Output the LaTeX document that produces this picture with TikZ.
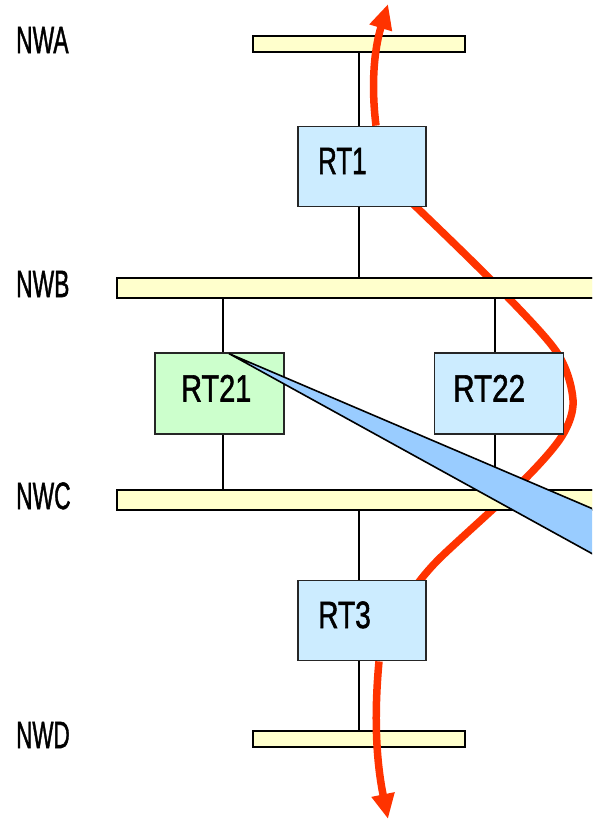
\documentclass[tikz,border=0pt]{standalone}
\usepackage{fontspec}
\usepackage{graphicx}
\setmainfont{Liberation Sans}
\newfontfamily\lblfont{Liberation Sans}[FakeBold=1.6]
\usetikzlibrary{arrows.meta}
\definecolor{barfill}{HTML}{FFFFCC}
\definecolor{rtblue}{HTML}{CCECFF}
\definecolor{rtgreen}{HTML}{CCFFCC}
\definecolor{wedgeblue}{HTML}{99CCFF}
\definecolor{routered}{HTML}{FF3300}
\newcommand{\lbl}[2]{\scalebox{#1}[1]{\lblfont\fontsize{38}{40}\selectfont #2}}
\tikzset{
  segbar/.style={draw=black, line width=2pt, fill=barfill, inner sep=0pt, minimum height=#1},
  segbar/.default=16pt,
  router/.style={draw=black!85, line width=1.8pt, fill=rtblue, inner sep=0pt,
                 minimum width=128pt, minimum height=80pt},
  link/.style={draw=black, line width=1.8pt},
  netlabel/.style={anchor=base west, inner sep=0pt},
  rtlabel/.style={anchor=base west, inner sep=0pt},
  path/.style={draw=routered, line width=7.5pt},
  pathhead/.style={-{Triangle[length=25pt,width=22pt]}}
}
\begin{document}
\begin{tikzpicture}[x=1pt,y=-1pt]
\clip (0,0) rectangle (592,819);
\fill[white] (0,0) rectangle (592,819);

% route through the middle segments, hidden behind segments and routers
\draw[path] plot[smooth, tension=0.5] coordinates
  {(410,201) (490,279) (556,351) (573,400) (562,436) (523,481) (440,558) (416,586)};

% network segments
\node[segbar, minimum width=212pt] (barA) at (359,43.5) {};
\node[segbar=20pt, minimum width=500pt] (barB) at (367,287.5) {};
\node[segbar=20pt, minimum width=500pt] (barC) at (367,499.5) {};
\node[segbar, minimum width=212pt] (barD) at (359,739) {};

% routers
\node[router] (RT1) at (362,166.5) {};
\node[router, minimum width=129pt, minimum height=81pt, fill=rtgreen] (RT21) at (219.5,393.5) {};
\node[router, minimum width=129pt, minimum height=81pt] (RT22) at (499,393.5) {};
\node[router] (RT3) at (362,620.5) {};

% links between routers and segments
\draw[link] (barA.south) -- (barA.south |- RT1.north);
\draw[link] (barA.south |- RT1.south) -- (barA.south |- barB.north);
\draw[link] ([xshift=3.5pt]RT21.north |- barB.south) -- ([xshift=3.5pt]RT21.north);
\draw[link] ([xshift=3.5pt]RT21.south) -- ([xshift=3.5pt]RT21.south |- barC.north);
\draw[link] ([xshift=-4pt]RT22.north |- barB.south) -- ([xshift=-4pt]RT22.north);
\draw[link] ([xshift=-4pt]RT22.south) -- ([xshift=-4pt]RT22.south |- barC.north);
\draw[link] (barD.north |- barC.south) -- (barD.north |- RT3.north);
\draw[link] (barD.north |- RT3.south) -- (barD.north);

% redraw segment bodies over the link ends
\node[segbar, minimum width=212pt] at (barA) {};
\node[segbar=20pt, minimum width=500pt] at (barB) {};
\node[segbar=20pt, minimum width=500pt] at (barC) {};
\node[segbar, minimum width=212pt] at (barD) {};
\node[router] at (RT1) {};
\node[router, minimum width=129pt, minimum height=81pt, fill=rtgreen] at (RT21) {};
\node[router, minimum width=129pt, minimum height=81pt] at (RT22) {};
\node[router] at (RT3) {};

% labels
\node[netlabel] (lA) at (16,53) {\lbl{0.6}{NWA}};
\node[netlabel] (lB) at (16,297) {\lbl{0.6}{NWB}};
\node[netlabel] (lC) at (16,509) {\lbl{0.6}{NWC}};
\node[netlabel] (lD) at (16,748) {\lbl{0.59}{NWD}};
\node[rtlabel] (t1) at (318,174) {\lbl{0.68}{RT1}};
\node[rtlabel] (t21) at (181,401.5) {\lbl{0.76}{RT21}};
\node[rtlabel] (t22) at (453,401.5) {\lbl{0.78}{RT22}};
\node[rtlabel] (t3) at (318,628) {\lbl{0.74}{RT3}};

% balloon from RT21
\coordinate (tip) at ([xshift=9.5pt,yshift=-1.5pt]RT21.north);
\filldraw[fill=wedgeblue, draw=black, line width=1.6pt, line join=miter]
  (tip) -- ++(471,201) -- ++(0,58.5) -- cycle;

% route entering and leaving
\draw[path, pathhead] ([xshift=14pt]RT1.north) .. controls (371,85) and (374,50) .. (388,4);
\draw[path, pathhead] ([xshift=17pt]RT3.south) .. controls (374,715) and (376,760) .. (388,819);
\end{tikzpicture}
\end{document}
